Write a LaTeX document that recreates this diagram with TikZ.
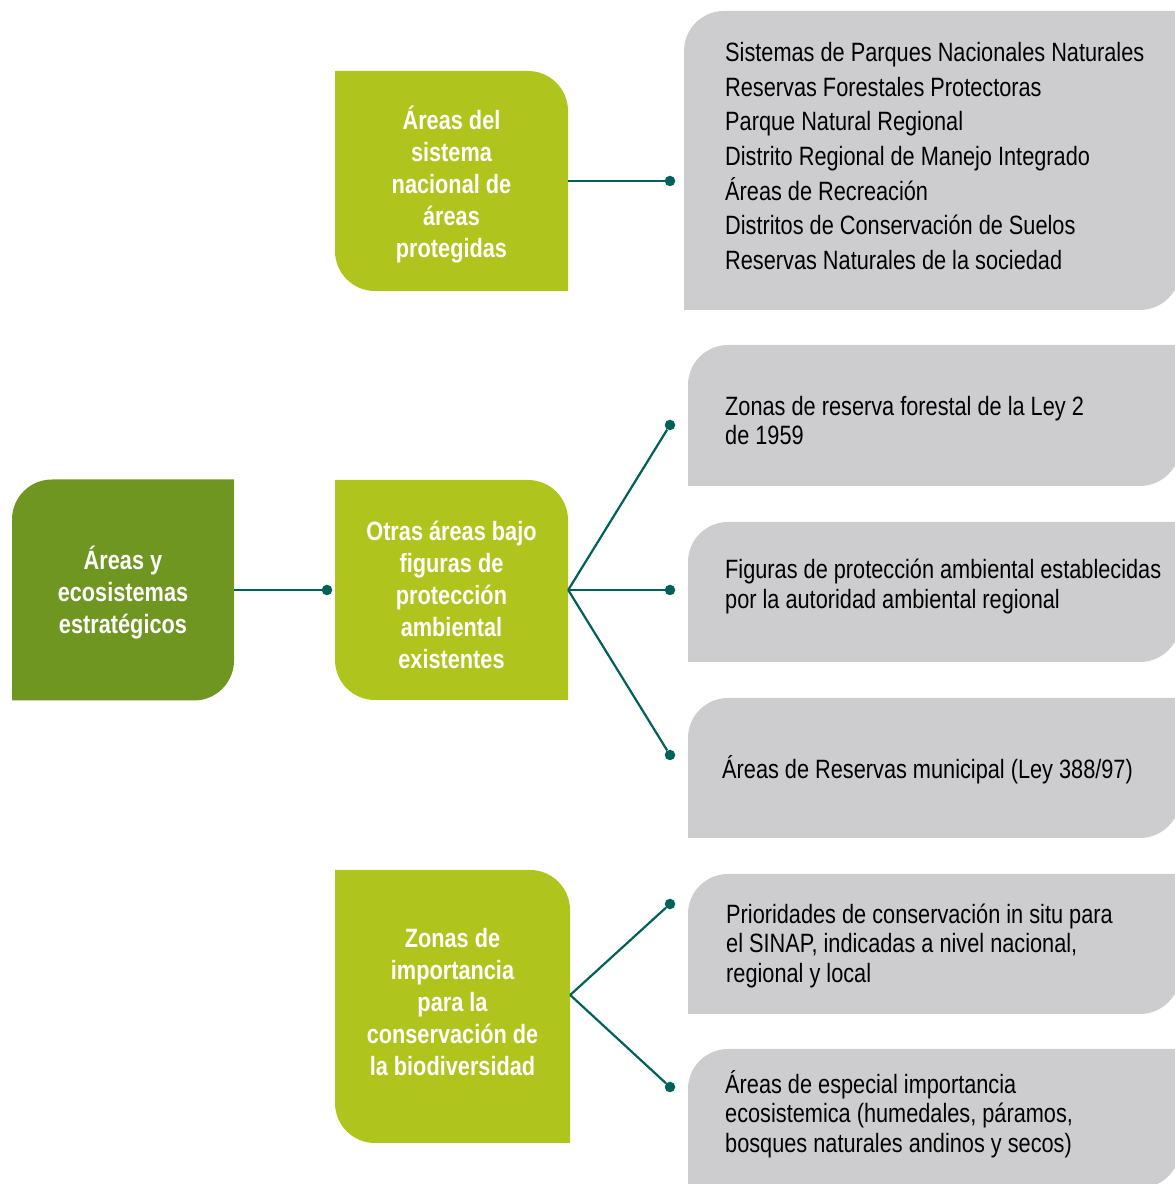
\documentclass[tikz,border=0pt]{standalone}
\usepackage{fontspec}
\setmainfont{Liberation Sans}[FakeStretch=0.82]
\usetikzlibrary{positioning}

\definecolor{hubgreen}{HTML}{709622}
\definecolor{topicgreen}{HTML}{B0C41E}
\definecolor{itemgrey}{HTML}{CDCDCF}
\definecolor{linkteal}{HTML}{00605A}

\begin{document}
\begin{tikzpicture}[
      x=1pt, y=1pt,
      % filled shape with rounded top-left and bottom-right corners
      tlbr/.style={path picture={
        \fill[#1] (path picture bounding box.south west)
          -- ([yshift=-40pt]path picture bounding box.north west)
          arc[start angle=180, end angle=90, radius=40pt]
          -- (path picture bounding box.north east)
          -- ([yshift=40pt]path picture bounding box.south east)
          arc[start angle=0, end angle=-90, radius=40pt]
          -- cycle;}},
      % filled shape with rounded top-right and bottom-left corners
      trbl/.style={path picture={
        \fill[#1] (path picture bounding box.north west)
          -- ([xshift=-40pt]path picture bounding box.north east)
          arc[start angle=90, end angle=0, radius=40pt]
          -- (path picture bounding box.south east)
          -- ([xshift=40pt]path picture bounding box.south west)
          arc[start angle=270, end angle=180, radius=40pt]
          -- cycle;}},
      hub/.style={tlbr=hubgreen, minimum width=222pt, minimum height=221pt, inner sep=0pt},
      topic/.style={trbl=topicgreen, minimum width=233pt, minimum height=220pt, inner sep=0pt},
      boxtxt/.style={align=center, text=white, inner sep=0pt,
        font=\fontsize{26.5pt}{32pt}\selectfont\bfseries},
      item/.style={tlbr=itemgrey, minimum width=492pt, minimum height=140pt, inner sep=0pt},
      itemtxt/.style={anchor=west, align=left, inner sep=0pt,
        font=\fontsize{26.5pt}{29.5pt}\selectfont},
      dot/.style={circle, fill=linkteal, inner sep=0pt, minimum size=10.5pt},
      link/.style={draw=linkteal, line width=2.2pt}]
      \useasboundingbox (0,0) rectangle (1175,1184);

      % left column
      \node[hub] (areas) at (123,594) {};
      \node[boxtxt] (areastxt) at ([yshift=-3pt]areas.center) {Áreas y\\ ecosistemas\\ estratégicos};

      % middle column
      \node[topic] (sinap) at (451.5,1003) {};
      \node[topic] (otras) at (451.5,594) {};
      \node[topic, minimum width=235pt, minimum height=273pt] (zonas) at (452.5,177.5) {};
      \node[boxtxt] (sinaptxt) at ([yshift=-4pt]sinap.center)
        {Áreas del\\ sistema\\ nacional de\\ áreas\\ protegidas};
      \node[boxtxt] (otrastxt) at ([yshift=-5pt]otras.center)
        {Otras áreas bajo\\ figuras de\\ protección\\ ambiental\\ existentes};
      \node[boxtxt] (zonastxt) at ([yshift=4pt]zonas.center)
        {Zonas de\\ importancia\\ para la\\ conservación de\\ la biodiversidad};

      % right column, grey boxes run past the page edge
      \node[item, minimum width=496pt, minimum height=299pt] (g1) at (932,1023.5) {};
      \node[item, minimum height=141pt] (g2) at (934,768.5) {};
      \node[item] (g3) at (934,592) {};
      \node[item] (g4) at (934,416) {};
      \node[item] (g5) at (934,240) {};
      \node[item, minimum height=139pt] (g6) at (934,65.5) {};

      \node[itemtxt, font=\fontsize{26.5pt}{34.7pt}\selectfont] (t1) at (725,1028)
        {Sistemas de Parques Nacionales Naturales\\ Reservas Forestales Protectoras\\
         Parque Natural Regional\\ Distrito Regional de Manejo Integrado\\
         Áreas de Recreación\\ Distritos de Conservación de Suelos\\
         Reservas Naturales de la sociedad};
      \node[itemtxt] (t2) at (725,763.5) {Zonas de reserva forestal de la Ley 2\\ de 1959};
      \node[itemtxt] (t3) at (725,597.5) {Figuras de protección ambiental establecidas\\ por la autoridad ambiental regional};
      \node[itemtxt] (t4) at (722,414) {Áreas de Reservas municipal (Ley 388/97)};
      \node[itemtxt] (t5) at (726,238.5) {Prioridades de conservación in situ para\\ el SINAP, indicadas a nivel nacional,\\ regional y local};
      \node[itemtxt] (t6) at (725,70) {Áreas de especial importancia\\ ecosistemica (humedales, páramos,\\ bosques naturales andinos y secos)};

      % connector end points
      \node[dot] (d0) at (327,594) {};
      \node[dot] (d1) at (670,1003) {};
      \node[dot] (d2) at (670,759) {};
      \node[dot] (d3) at (670,594) {};
      \node[dot] (d4) at (670,429) {};
      \node[dot] (d5) at (670,280) {};
      \node[dot] (d6) at (670,97) {};

      \draw[link] (areas.east) -- (d0);
      \draw[link] (sinap.east) -- (d1);
      \draw[link] (otras.east) -- (d2);
      \draw[link] (otras.east) -- (d3);
      \draw[link] (otras.east) -- (d4);
      \draw[link] ([yshift=11.5pt]zonas.east) -- (d5);
      \draw[link] ([yshift=11.5pt]zonas.east) -- (d6);
    \end{tikzpicture}
\end{document}
